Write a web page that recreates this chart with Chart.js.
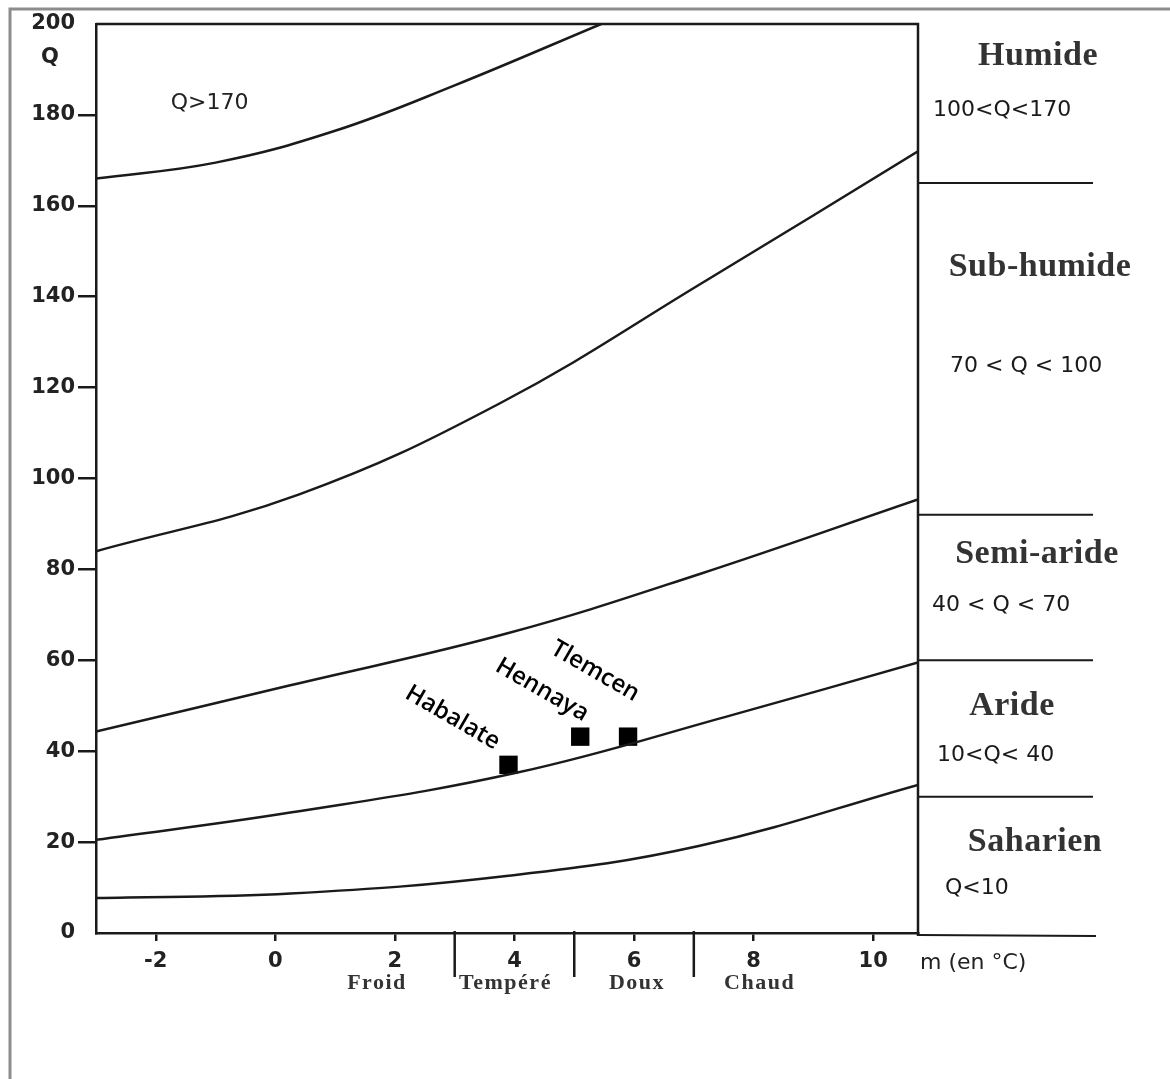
<!DOCTYPE html>
<html>
<head>
<meta charset="utf-8">
<script src="https://cdn.jsdelivr.net/npm/chart.js@4.4.1/dist/chart.umd.min.js"></script>
<style>
html, body { margin: 0; padding: 0; background: #fff; }
#wrap { position: relative; width: 1170px; height: 1079px; }
</style>
</head>
<body>
<div id="wrap"><canvas id="chart" width="1170" height="1079"></canvas></div>
<script>
// Climagramme d'Emberger : Q2 en fonction de m (°C)

const X_MIN = -3, X_MAX = 10.75;
const xTicks = [-2, 0, 2, 4, 6, 8, 10];
const yTicks = [0, 20, 40, 60, 80, 100, 120, 140, 160, 180, 200];

// limit curves between bioclimatic stages (m, Q)
const limHumideM = [-3, -1, 1, 3, 5.45];
const limHumideQ = [166, 169.5, 176.5, 186.5, 200];
const limSubHumideM = [-3, 0.4, 3.75, 7.2, 10.75];
const limSubHumideQ = [84, 96.5, 116.5, 143.5, 172];
const limSemiArideM = [-3, 0.25, 3.9, 7.1, 10.75];
const limSemiArideQ = [44.3, 54.5, 66, 79, 95.4];
const limArideM = [-3, 0.25, 4.05, 7.65, 10.75];
const limArideQ = [20.5, 26.5, 35.3, 48, 59.5];
const limSaharienM = [-3, 0.25, 3.9, 7.1, 10.75];
const limSaharienQ = [7.7, 8.7, 12.6, 19.2, 32.6];

// stations
const stations = ['Habalate', 'Hennaya', 'Tlemcen'];
const stationM = [3.9, 5.1, 5.9];
const stationQ = [37, 43.2, 43.2];

// stages (right column)
const stages = ['Humide', 'Sub-humide', 'Semi-aride', 'Aride', 'Saharien'];
const stageRanges = ['100<Q<170', '70 < Q < 100', '40 < Q < 70', '10<Q< 40', 'Q<10'];
const stageLimitsQ = [165, 92, 60, 30];

// winter variants
const variants = ['Froid', 'Tempéré', 'Doux', 'Chaud'];
const variantM = [1.7, 3.85, 6.05, 8.1];
const variantLimitsM = [3, 5, 7];

const INK = '#1a1a1a';

function pts(ms, qs) {
    return ms.map((m, i) => ({ x: m, y: qs[i] }));
}

function curve(ms, qs) {
    return {
        data: pts(ms, qs),
        showLine: true,
        borderColor: INK,
        borderWidth: 2.5,
        pointRadius: 0,
        tension: 0.4
    };
}

const datasets = [
    curve(limHumideM, limHumideQ),
    curve(limSubHumideM, limSubHumideQ),
    curve(limSemiArideM, limSemiArideQ),
    curve(limArideM, limArideQ),
    curve(limSaharienM, limSaharienQ),
    {
        data: pts(stationM, stationQ),
        showLine: false,
        pointStyle: 'rect',
        pointRadius: 13,
        backgroundColor: '#000',
        borderColor: '#000',
        borderWidth: 0
    }
];

// text placement (layout only)
const stageNameQ = [193, 146.5, 83.3, 49.8, 20];
const stageRangeQ = [181, 124.7, 72.2, 39.2, 9.9];
const stageNameDx = [120, 122, 119, 94, 117];
const stageRangeDx = [15, 32, 14, 19, 27];
const stationLabelOffset = [[-14, -15], [3, -15], [6, -35]];

const climaDecor = {
    id: 'climaDecor',
    afterDraw(chart) {
        const { ctx, chartArea: a, scales: { x, y } } = chart;
        ctx.save();

        // page frame
        ctx.strokeStyle = '#8c8c8c';
        ctx.lineWidth = 3;
        ctx.beginPath();
        ctx.moveTo(10, 1079);
        ctx.lineTo(10, 9);
        ctx.lineTo(1170, 9);
        ctx.stroke();

        // top and right of the plot box
        ctx.strokeStyle = INK;
        ctx.lineWidth = 2.5;
        ctx.beginPath();
        ctx.moveTo(a.left, a.top);
        ctx.lineTo(a.right, a.top);
        ctx.lineTo(a.right, a.bottom + 3);
        ctx.stroke();

        // bottom axis extension + stage limits
        const colEnd = a.right + 178;
        ctx.lineWidth = 2;
        ctx.beginPath();
        ctx.moveTo(a.right, a.bottom + 2);
        ctx.lineTo(colEnd, a.bottom + 3);
        stageLimitsQ.forEach(q => {
            const py = y.getPixelForValue(q);
            ctx.moveTo(a.right, py);
            ctx.lineTo(colEnd - 3, py);
        });
        ctx.stroke();

        // variant separators under the axis
        ctx.lineWidth = 2.5;
        ctx.beginPath();
        variantLimitsM.forEach(m => {
            const px = x.getPixelForValue(m);
            ctx.moveTo(px, a.bottom - 2);
            ctx.lineTo(px, a.bottom + 44);
        });
        ctx.stroke();

        ctx.fillStyle = '#333';
        ctx.textAlign = 'center';
        ctx.textBaseline = 'middle';
        ctx.font = 'bold 22px "Liberation Serif"';
        ctx.letterSpacing = '1.5px';
        variants.forEach((v, i) => {
            ctx.fillText(v, x.getPixelForValue(variantM[i]), a.bottom + 50);
        });
        ctx.letterSpacing = '0px';

        // axis names
        ctx.fillStyle = '#222';
        ctx.font = '22px "DejaVu Sans"';
        ctx.textAlign = 'left';
        ctx.fillText('m (en °C)', a.right + 2, a.bottom + 30);
        ctx.textAlign = 'center';
        ctx.font = 'bold 21px "DejaVu Sans"';
        ctx.fillText('Q', 50, 58);
        ctx.font = '22px "DejaVu Sans"';
        ctx.fillText('Q>170', x.getPixelForValue(-1.1), y.getPixelForValue(182.6));

        // stages column
        stages.forEach((s, i) => {
            ctx.fillStyle = '#333';
            ctx.textAlign = 'center';
            ctx.font = 'bold 34px "Liberation Serif"';
            ctx.letterSpacing = '0.5px';
            ctx.fillText(s, a.right + stageNameDx[i], y.getPixelForValue(stageNameQ[i]));
            ctx.letterSpacing = '0px';
            ctx.fillStyle = '#1a1a1a';
            ctx.textAlign = 'left';
            ctx.font = '22px "DejaVu Sans"';
            ctx.fillText(stageRanges[i], a.right + stageRangeDx[i], y.getPixelForValue(stageRangeQ[i]));
        });

        // station names
        ctx.fillStyle = '#000';
        ctx.font = '600 24px "Open Sans"';
        ctx.textAlign = 'right';
        ctx.textBaseline = 'alphabetic';
        stations.forEach((s, i) => {
            const px = x.getPixelForValue(stationM[i]) + stationLabelOffset[i][0];
            const py = y.getPixelForValue(stationQ[i]) + stationLabelOffset[i][1];
            ctx.save();
            ctx.translate(px, py);
            ctx.rotate(30 * Math.PI / 180);
            ctx.fillText(s, 0, 0);
            ctx.restore();
        });

        ctx.restore();
    }
};

new Chart(document.getElementById('chart'), {
    type: 'scatter',
    data: { datasets },
    options: {
        responsive: false,
        animation: false,
        layout: { padding: { left: 0, top: 24, right: 252, bottom: 86 } },
        plugins: { legend: { display: false }, tooltip: { enabled: false } },
        scales: {
            x: {
                type: 'linear',
                min: X_MIN,
                max: X_MAX,
                afterBuildTicks: s => { s.ticks = xTicks.map(v => ({ value: v })); },
                afterFit: s => { s.height = 60; },
                grid: { drawOnChartArea: false, tickLength: 8, lineWidth: 2.5, tickWidth: 2.5, tickColor: INK },
                border: { display: true, color: INK, width: 2.5 },
                ticks: {
                    color: '#222',
                    font: { family: 'DejaVu Sans', size: 21, weight: 'bold' },
                    padding: 8,
                    maxRotation: 0,
                    autoSkip: false
                }
            },
            y: {
                type: 'linear',
                min: 0,
                max: 200,
                afterBuildTicks: s => { s.ticks = yTicks.map(v => ({ value: v })); },
                afterFit: s => { s.width = 96; },
                grid: {
                    drawOnChartArea: false,
                    tickLength: 18,
                    lineWidth: 2.5,
                    tickWidth: 2.5,
                    tickColor: c => (c.tick && (c.tick.value === 0 || c.tick.value === 200)) ? 'rgba(0,0,0,0)' : INK
                },
                border: { display: true, color: INK, width: 2.5 },
                ticks: {
                    color: '#222',
                    font: { family: 'DejaVu Sans', size: 21, weight: 'bold' },
                    padding: 3,
                    autoSkip: false
                }
            }
        }
    },
    plugins: [climaDecor]
});
</script>
</body>
</html>
